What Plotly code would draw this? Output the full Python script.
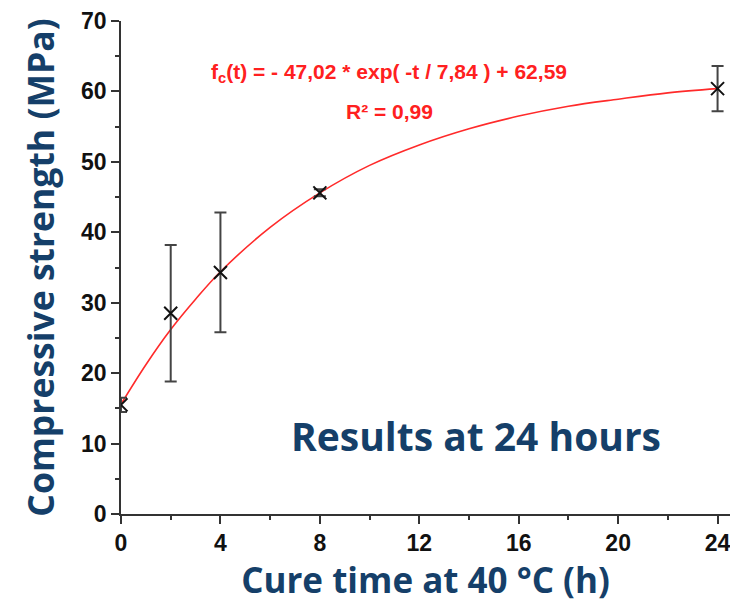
import plotly.graph_objects as go

# Measured data (cure time in hours, compressive strength in MPa)
cure_time = [0, 2, 4, 8, 24]
strength = [15.5, 28.5, 34.3, 45.6, 60.4]
strength_err = [1.0, 9.7, 8.5, 0.5, 3.2]

# Fitted curve
fit_time = [0, 1, 2, 3, 4, 6, 8, 10, 12, 14, 16, 18, 20, 22, 24]
fit_strength = [15.6, 21.2, 26.2, 30.5, 34.4, 40.7, 45.6, 49.5, 52.4, 54.7, 56.5, 57.9, 58.9, 59.8, 60.4]

x_ticks = [0, 4, 8, 12, 16, 20, 24]
y_ticks = [0, 10, 20, 30, 40, 50, 60, 70]

title_font = "'Open Sans', Lato, sans-serif"
tick_font = "Arial, 'Liberation Sans', sans-serif"
blue = "#153f69"

fig = go.Figure()
fig.add_trace(go.Scatter(
    x=fit_time, y=fit_strength, mode="lines",
    line=dict(color="#ff2a2a", width=1.6, shape="spline"),
    showlegend=False, hoverinfo="skip"))
fig.add_trace(go.Scatter(
    x=cure_time, y=strength, mode="markers",
    marker=dict(symbol="x-thin", size=13, line=dict(color="#111111", width=2)),
    error_y=dict(type="data", array=strength_err, visible=True,
                 color="#444444", thickness=2, width=6),
    showlegend=False))

axis_common = dict(
    showline=True, linecolor="#333333", linewidth=1.6,
    ticks="outside", ticklen=8, tickwidth=1.6, tickcolor="#333333",
    showgrid=False, zeroline=False, automargin=False,
    tickfont=dict(family=tick_font, size=23, color="#111111", weight="bold"),
)

fig.update_xaxes(
    range=[0, 24.5], tickvals=x_ticks, ticktext=[str(v) for v in x_ticks],
    minor=dict(dtick=2, ticks="outside", ticklen=4, tickwidth=1.6, tickcolor="#333333"),
    title=dict(text="Cure time at 40 °C (h)", standoff=8,
               font=dict(family=title_font, size=35, color=blue, weight="bold")),
    **axis_common)
fig.update_yaxes(
    range=[0, 70], tickvals=y_ticks, ticktext=[str(v) for v in y_ticks],
    minor=dict(dtick=5, ticks="outside", ticklen=4, tickwidth=1.6, tickcolor="#333333"),
    title=dict(text="Compressive strength (MPa)", standoff=16,
               font=dict(family=title_font, size=35.5, color=blue, weight="bold")),
    **axis_common)

fig.add_annotation(
    x=10.8, y=62.6, xref="x", yref="y", showarrow=False,
    text="f<sub>c</sub>(t) = - 47,02 * exp( -t / 7,84 ) + 62,59",
    font=dict(family=tick_font, size=21, color="#ff2020", weight="bold"))
fig.add_annotation(
    x=10.8, y=57.2, xref="x", yref="y", showarrow=False,
    text="R² = 0,99",
    font=dict(family=tick_font, size=21, color="#ff2020", weight="bold"))
fig.add_annotation(
    x=14.3, y=11.2, xref="x", yref="y", showarrow=False,
    text="Results at 24 hours",
    font=dict(family=title_font, size=39, color=blue, weight="bold"))

# The page body adds an 8 px offset, so the figure is sized/margined to compensate
fig.update_layout(
    width=730, height=598,
    margin=dict(l=113, r=8, t=13, b=92),
    paper_bgcolor="white", plot_bgcolor="white",
)

fig.write_html("out.html")
